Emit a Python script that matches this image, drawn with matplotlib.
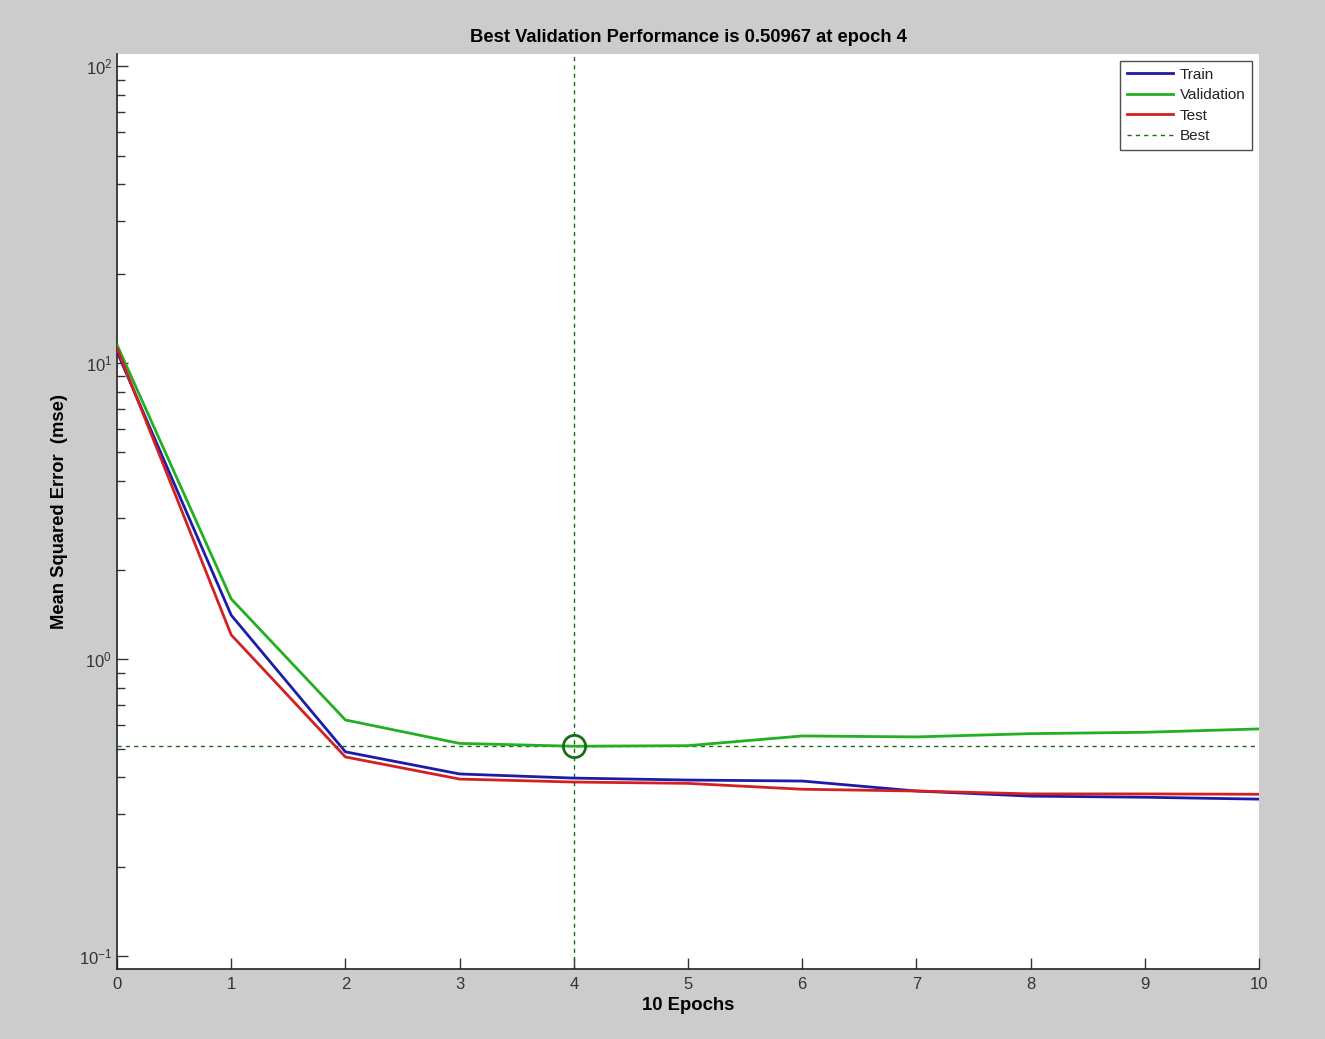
import matplotlib
matplotlib.use("Agg")
import matplotlib.pyplot as plt
from matplotlib.ticker import LogLocator, FixedLocator, NullFormatter

plt.rcParams['font.family'] = ['Liberation Sans', 'DejaVu Sans']
plt.rcParams['mathtext.fontset'] = 'custom'
plt.rcParams['mathtext.rm'] = 'Liberation Sans'
plt.rcParams['mathtext.it'] = 'Liberation Sans'
plt.rcParams['axes.unicode_minus'] = False

epochs = [0, 1, 2, 3, 4, 5, 6, 7, 8, 9, 10]
train = [10.9, 1.41, 0.488, 0.411, 0.398, 0.392, 0.389, 0.360, 0.346, 0.343, 0.338]
validation = [11.5, 1.60, 0.625, 0.521, 0.50967, 0.512, 0.552, 0.548, 0.562, 0.568, 0.583]
test = [11.2, 1.21, 0.469, 0.395, 0.386, 0.382, 0.365, 0.360, 0.352, 0.352, 0.351]
best_epoch = 4
best_perf = 0.50967
x_ticks = [0, 1, 2, 3, 4, 5, 6, 7, 8, 9, 10]
y_ticks = [0.1, 1, 10, 100]
y_tick_labels = ['$10^{-1}$', '$10^{0}$', '$10^{1}$', '$10^{2}$']

fig = plt.figure(figsize=(13.25, 10.39), dpi=100, facecolor='#cccccc')
ax = fig.add_axes([117/1325, 1 - 969/1039, (1259 - 117)/1325, (969 - 54)/1039])
ax.set_facecolor('white')

ax.plot(epochs, train, color='#1c1ca8', lw=2, label='Train', zorder=3)
ax.plot(epochs, validation, color='#22b022', lw=2, label='Validation', zorder=3)
ax.plot(epochs, test, color='#d42020', lw=2, label='Test', zorder=3)
ax.axhline(best_perf, color='#1a6a1a', lw=1, ls=(0, (3, 3)), label='Best', zorder=2)
ax.axvline(best_epoch, color='#1a6a1a', lw=1, ls=(0, (3, 3)), zorder=2)
ax.plot([best_epoch], [best_perf], marker='o', ms=16, mfc='none', mec='#137013', mew=2, zorder=4)

ax.set_yscale('log')
ax.set_xlim(0, 10)
ax.set_ylim(0.0904, 110)
ax.xaxis.set_major_locator(FixedLocator(x_ticks))
ax.set_yticks(y_ticks)
ax.set_yticklabels(y_tick_labels)
ax.yaxis.set_minor_locator(LogLocator(base=10, subs=range(2, 10), numticks=30))
ax.yaxis.set_minor_formatter(NullFormatter())
ax.tick_params(which='both', direction='in', top=False, right=False, labelsize=12,
               color='#333333', labelcolor='#333333')
ax.tick_params(which='major', length=8, width=1)
ax.tick_params(which='minor', length=6, width=1)
ax.tick_params(axis='x', pad=6)
for side in ['top', 'right']:
    ax.spines[side].set_visible(False)
for side in ['left', 'bottom']:
    ax.spines[side].set_color('#222222')
    ax.spines[side].set_linewidth(1.2)

ax.set_title('Best Validation Performance is 0.50967 at epoch 4', fontsize=13.2, fontweight='bold', pad=9)
ax.set_xlabel('10 Epochs', fontsize=13.3, fontweight='bold', labelpad=3)
ax.set_ylabel('Mean Squared Error  (mse)', fontsize=13.2, fontweight='bold', labelpad=8)

leg = ax.legend(loc='upper right', fontsize=11, frameon=True, fancybox=False,
                edgecolor='#222222', handlelength=3.0, handletextpad=0.45,
                borderpad=0.45, labelspacing=0.42, borderaxespad=0.45)
leg.get_frame().set_linewidth(1)
for t in leg.get_texts():
    t.set_color('#222222')

fig.savefig('out.png', dpi=100, facecolor=fig.get_facecolor())
